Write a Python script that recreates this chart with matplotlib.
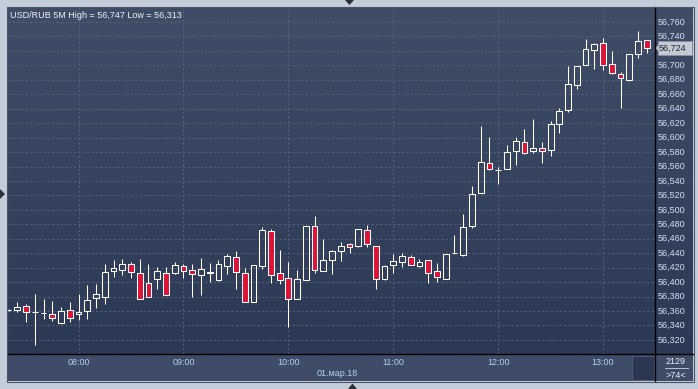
import numpy as np
import matplotlib
matplotlib.use("Agg")
import matplotlib.pyplot as plt
from matplotlib.patches import Rectangle, Polygon
from matplotlib.lines import Line2D

# ---------------- data ----------------
title = "USD/RUB 5M High = 56,747 Low = 56,313"
opens = [56.3615, 56.362, 56.3666, 56.358, 56.357, 56.3555, 56.343, 56.361, 56.356, 56.3596,
         56.3776, 56.379, 56.415, 56.417, 56.4244, 56.4129, 56.399, 56.4041, 56.4129, 56.4124,
         56.4226, 56.417, 56.4096, 56.4128, 56.4027, 56.4228, 56.4353, 56.4131, 56.373, 56.4228,
         56.4714, 56.4131, 56.4062, 56.3771, 56.4034, 56.4783, 56.4159, 56.4312, 56.443, 56.4532,
         56.4504, 56.4726, 56.4504, 56.4042, 56.4236, 56.4278, 56.4352, 56.4227, 56.431, 56.4158,
         56.404, 56.4398, 56.4381, 56.4774, 56.5231, 56.5652, 56.5552, 56.5564, 56.5818, 56.5943,
         56.5818, 56.586, 56.5832, 56.6185, 56.6379, 56.6725, 56.7003, 56.7211, 56.7308, 56.7017,
         56.6878, 56.6804, 56.7164, 56.7349]
highs = [56.363, 56.373, 56.370, 56.3836, 56.3767, 56.374, 56.3656, 56.3725, 56.3836, 56.3956,
         56.398, 56.4252, 56.4308, 56.4314, 56.4277, 56.4314, 56.4244, 56.4203, 56.4203, 56.4281,
         56.4253, 56.4244, 56.4327, 56.4258, 56.430, 56.4386, 56.4427, 56.420, 56.4242, 56.4769,
         56.4732, 56.4441, 56.4275, 56.4164, 56.4783, 56.4912, 56.4593, 56.4441, 56.455, 56.4546,
         56.474, 56.4791, 56.4504, 56.4241, 56.4384, 56.4407, 56.437, 56.4324, 56.431, 56.426,
         56.439, 56.4658, 56.4949, 56.5337, 56.6155, 56.6003, 56.560, 56.5892, 56.6003, 56.6114,
         56.6252, 56.5943, 56.6224, 56.6407, 56.6989, 56.6989, 56.7368, 56.7308, 56.7377, 56.7197,
         56.6906, 56.7155, 56.7479, 56.7349]
lows = [56.360, 56.358, 56.345, 56.3125, 56.349, 56.346, 56.343, 56.345, 56.3476, 56.3494,
        56.3642, 56.370, 56.4077, 56.4096, 56.405, 56.3768, 56.3796, 56.3898, 56.3824, 56.4115,
        56.405, 56.3792, 56.3819, 56.400, 56.401, 56.4113, 56.391, 56.373, 56.373, 56.4187,
        56.3988, 56.3979, 56.3378, 56.3771, 56.4034, 56.4127, 56.4159, 56.4107, 56.4292, 56.4407,
        56.449, 56.449, 56.390, 56.4028, 56.4125, 56.4213, 56.4241, 56.4209, 56.3992, 56.4005,
        56.404, 56.4386, 56.4358, 56.4746, 56.5231, 56.555, 56.5356, 56.5564, 56.5619, 56.5776,
        56.579, 56.5652, 56.5749, 56.607, 56.6351, 56.667, 56.7003, 56.6943, 56.6933, 56.6878,
        56.6416, 56.679, 56.7095, 56.7169]
closes = [56.362, 56.365, 56.358, 56.359, 56.3575, 56.350, 56.360, 56.351, 56.3587, 56.3749,
          56.3836, 56.4137, 56.419, 56.4244, 56.4138, 56.3768, 56.3796, 56.4156, 56.3824, 56.424,
          56.4156, 56.4115, 56.4175, 56.4136, 56.4253, 56.4362, 56.4136, 56.373, 56.4242, 56.4727,
          56.4104, 56.4025, 56.3762, 56.4048, 56.4783, 56.4173, 56.4312, 56.4424, 56.4504, 56.449,
          56.474, 56.4532, 56.4038, 56.4227, 56.4296, 56.4366, 56.4241, 56.4283, 56.413, 56.4075,
          56.439, 56.4404, 56.4765, 56.5222, 56.5665, 56.5564, 56.5556, 56.5804, 56.5956, 56.579,
          56.586, 56.5818, 56.6192, 56.6365, 56.6739, 56.6989, 56.7224, 56.7294, 56.7003, 56.6892,
          56.6823, 56.7155, 56.7335, 56.7238]
hour_labels = ["08:00", "09:00", "10:00", "11:00", "12:00", "13:00"]
hour_index = [8, 20, 32, 44, 56, 68]
price_ticks = [round(56.320 + 0.020 * k, 3) for k in range(23)]
date_label = "01.мар.18"
last_price = 56.724
footer_top = "2129"
footer_bottom = ">74<"

# ---------------- layout helpers ----------------
W, H = 698, 389
fig = plt.figure(figsize=(W / 100, H / 100), dpi=100)
fig.patch.set_facecolor("#c3cdd9")

def fx(x):
    return x / W

def fy(y):
    return 1 - y / H

def rect(x0, y0, x1, y1):
    return [fx(x0), fy(y1), fx(x1) - fx(x0), fy(y0) - fy(y1)]

FONT = "Liberation Sans"
L, T, R, B = 8, 7, 655, 354
RR, BB = 693, 381

# gradient background (plot + right scale)
bg = fig.add_axes(rect(L, T, RR, B))
bg.set_axis_off()
top_c = np.array([0x40, 0x4d, 0x67]) / 255
bot_c = np.array([0x2c, 0x39, 0x55]) / 255
t = np.linspace(0, 1, 256)[:, None]
grad = top_c[None, :] * (1 - t) + bot_c[None, :] * t
bg.imshow(grad[:, None, :], aspect="auto", extent=[0, 1, 0, 1])
bg.set_xlim(0, 1); bg.set_ylim(0, 1)

# bottom time panel
tp = fig.add_axes(rect(L, B, RR, BB))
tp.set_axis_off()
tp.add_patch(Rectangle((0, 0), 1, 1, transform=tp.transAxes, color="#3e4c67"))

# main axes
ax = fig.add_axes(rect(L, T, R, B))
ax.patch.set_alpha(0)
for s in ax.spines.values():
    s.set_visible(False)
y_top = 56.760 + (T - 22) * -0.020 / 14.45
y_bot = 56.760 - (B - 22) * 0.020 / 14.45
ax.set_ylim(y_bot, y_top)
ax.set_xlim(-0.07, 73.94)
ax.set_xticks(hour_index)
ax.set_yticks(price_ticks)
ax.tick_params(length=0, labelbottom=False, labelleft=False)
ax.grid(True, color="#56647e", linestyle=(0, (2, 2.5)), linewidth=0.7)
ax.set_axisbelow(True)

lw = 0.75
bw = 0.66
for i, (o, h, l, c) in enumerate(zip(opens, highs, lows, closes)):
    top = max(o, c)
    bot = min(o, c)
    ax.vlines(i, top, h, color="white", linewidth=lw, zorder=3)
    ax.vlines(i, l, bot, color="white", linewidth=lw, zorder=3)
    fill = "#dc1537" if c < o else "none"
    ax.bar(i, max(top - bot, 0.0004), bottom=bot, width=bw, color=fill,
           edgecolor="white", linewidth=lw, zorder=4)

# last price marker position
ylp = 22 + (56.760 - last_price) / 0.020 * 14.45

# y labels (the one hidden under the last-price box is skipped)
for v in price_ticks:
    ypix = 22 + (56.760 - v) / 0.020 * 14.45
    if T + 3 < ypix < B - 3 and abs(ypix - ylp) > 9:
        fig.text(fx(658), fy(ypix), f"{v:.3f}".replace(".", ","), fontsize=6.5,
                 family=FONT, color="#d4deee", ha="left", va="center")

# x labels
for lab, idx in zip(hour_labels, hour_index):
    xpix = 8.6 + 8.742 * idx
    fig.text(fx(xpix), fy(362.5), lab, fontsize=6.5, family=FONT, color="#b2cff2",
             ha="center", va="center")
fig.text(fx(337), fy(373.5), date_label, fontsize=6.5, family=FONT, color="#b2cff2",
         ha="center", va="center")

# title
fig.text(fx(10), fy(15), title, fontsize=6.5, family=FONT, color="#eef2f8",
         ha="left", va="center")

# last price box
fig.patches.append(Rectangle((fx(658), fy(ylp + 7)), fx(692) - fx(658), fy(ylp - 7) - fy(ylp + 7),
                             transform=fig.transFigure, facecolor="#c6cad2", edgecolor="#8a93a3",
                             linewidth=0.6, zorder=5))
fig.patches.append(Polygon([[fx(655.5), fy(ylp)], [fx(658.5), fy(ylp - 3.5)], [fx(658.5), fy(ylp + 3.5)]],
                           closed=True, transform=fig.transFigure, facecolor="#c6cad2", zorder=5))
fig.text(fx(659), fy(ylp), f"{last_price:.3f}".replace(".", ","), fontsize=6.5, family=FONT,
         color="#1e2838", ha="left", va="center", zorder=6)

# small dark box in time panel
fig.patches.append(Rectangle((fx(632), fy(380)), fx(654) - fx(632), fy(356) - fy(380),
                             transform=fig.transFigure, facecolor="#2b3752", edgecolor="#56637a",
                             linewidth=0.5, zorder=3))
# footer box texts
fig.text(fx(676), fy(361), footer_top, fontsize=6.5, family=FONT, color="#e8eef6",
         ha="center", va="center")
fig.text(fx(676), fy(375), footer_bottom, fontsize=6.5, family=FONT, color="#e8eef6",
         ha="center", va="center")
fig.lines.append(Line2D([fx(665), fx(688)], [fy(368), fy(368)], transform=fig.transFigure,
                        color="#c9d3e2", linewidth=0.6))

# black separators
fig.lines.append(Line2D([fx(L), fx(RR)], [fy(B), fy(B)], transform=fig.transFigure,
                        color="black", linewidth=1.0, zorder=6))
fig.lines.append(Line2D([fx(R), fx(R)], [fy(T), fy(BB)], transform=fig.transFigure,
                        color="black", linewidth=1.0, zorder=6))
# outer frame
fig.patches.append(Rectangle((fx(L - 0.5), fy(BB + 0.5)), fx(RR + 0.5) - fx(L - 0.5),
                             fy(T - 0.5) - fy(BB + 0.5), transform=fig.transFigure,
                             facecolor="none", edgecolor="#4d5668", linewidth=0.8, zorder=6))

# border arrows
arr = "#2a2f3a"
fig.patches.append(Polygon([[fx(345), fy(0)], [fx(354), fy(0)], [fx(349.5), fy(5)]],
                           closed=True, transform=fig.transFigure, facecolor=arr))
fig.patches.append(Polygon([[fx(0), fy(189)], [fx(0), fy(199)], [fx(5), fy(194)]],
                           closed=True, transform=fig.transFigure, facecolor=arr))
fig.patches.append(Polygon([[fx(348), fy(389)], [fx(357), fy(389)], [fx(352.5), fy(383.5)]],
                           closed=True, transform=fig.transFigure, facecolor=arr))

fig.savefig("out.png", dpi=100, facecolor=fig.get_facecolor())
